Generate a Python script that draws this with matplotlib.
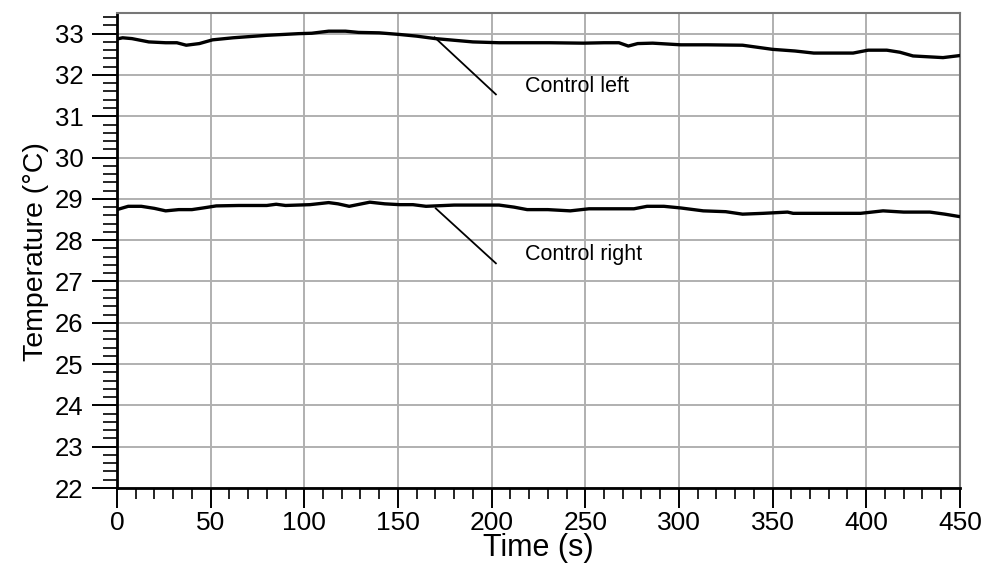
import matplotlib
matplotlib.use("Agg")
import matplotlib.pyplot as plt
from matplotlib.ticker import MultipleLocator

plt.rcParams['font.family'] = ['Liberation Sans', 'DejaVu Sans']

# Control left temperature trace
time_left = [0, 3, 8, 17, 26, 32, 37, 44, 51, 62, 80, 97, 104, 113, 122, 129, 140,
             151, 160, 170, 180, 190, 204, 215, 231, 249, 260, 268, 273, 278, 286,
             301, 315, 334, 342, 350, 362, 372, 393, 401, 411, 418, 425, 441, 450]
temp_left = [32.87, 32.90, 32.88, 32.80, 32.78, 32.78, 32.72, 32.76, 32.85, 32.90,
             32.96, 33.00, 33.01, 33.06, 33.06, 33.03, 33.02, 32.98, 32.94, 32.88,
             32.84, 32.80, 32.78, 32.78, 32.78, 32.77, 32.78, 32.78, 32.70, 32.76,
             32.77, 32.73, 32.73, 32.72, 32.67, 32.62, 32.58, 32.53, 32.53, 32.60,
             32.60, 32.55, 32.46, 32.42, 32.47]

# Control right temperature trace
time_right = [0, 6, 13, 20, 26, 33, 40, 46, 53, 65, 80, 85, 90, 103, 113, 118, 124,
              135, 143, 151, 158, 165, 180, 204, 212, 219, 230, 242, 252, 265, 276,
              283, 292, 301, 313, 325, 334, 345, 358, 361, 380, 397, 409, 420, 434,
              442, 450]
temp_right = [28.74, 28.82, 28.82, 28.77, 28.71, 28.74, 28.74, 28.78, 28.83, 28.84,
              28.84, 28.87, 28.84, 28.86, 28.91, 28.88, 28.82, 28.92, 28.88, 28.86,
              28.86, 28.82, 28.85, 28.85, 28.80, 28.74, 28.74, 28.71, 28.76, 28.76,
              28.76, 28.82, 28.82, 28.78, 28.71, 28.69, 28.63, 28.65, 28.68, 28.65,
              28.65, 28.65, 28.71, 28.68, 28.68, 28.63, 28.57]

# Label text and leader-line anchors (data units)
labels = ["Control left", "Control right"]
leader_start = [(169.6, 32.91), (170.2, 28.77)]
leader_end = [(202.3, 31.53), (202.3, 27.44)]
label_pos = [(217.8, 31.72), (217.8, 27.65)]

fig = plt.figure(figsize=(9.87, 5.63), dpi=100)
ax = fig.add_axes([0.1185, 0.1332, 0.854, 0.8437])

grid_c = '#b0b0b0'
ax.grid(True, which='major', color=grid_c, linewidth=1.4, zorder=0)

ax.plot(time_left, temp_left, color='black', linewidth=2.4, zorder=3)
ax.plot(time_right, temp_right, color='black', linewidth=2.4, zorder=3)

for lab, (x0, y0), (x1, y1), (tx, ty) in zip(labels, leader_start, leader_end, label_pos):
    ax.plot([x0, x1], [y0, y1], color='black', linewidth=1.3, zorder=3)
    ax.text(tx, ty, lab, fontsize=15.5, ha='left', va='center', color='black', zorder=4)

ax.set_xlim(0, 450)
ax.set_ylim(22, 33.5)
ax.xaxis.set_major_locator(MultipleLocator(50))
ax.xaxis.set_minor_locator(MultipleLocator(10))
ax.yaxis.set_major_locator(MultipleLocator(1))
ax.yaxis.set_minor_locator(MultipleLocator(0.2))

ax.tick_params(axis='x', which='major', direction='out', length=14.5, width=1.4,
               labelsize=19, pad=2)
ax.tick_params(axis='x', which='minor', direction='out', length=8, width=1.2)
ax.tick_params(axis='y', which='major', direction='out', length=18, width=1.4,
               labelsize=18.5, pad=6)
ax.tick_params(axis='y', which='minor', direction='out', length=10, width=1.2)

for side in ('left', 'bottom'):
    ax.spines[side].set_color('black')
    ax.spines[side].set_linewidth(2.0)
for side in ('top', 'right'):
    ax.spines[side].set_color('#777777')
    ax.spines[side].set_linewidth(1.5)

ax.set_xlabel('Time (s)', fontsize=22)
ax.xaxis.set_label_coords(0.4994, -0.095)
ax.set_ylabel('Temperature (°C)', fontsize=20.5)
ax.yaxis.set_label_coords(-0.081, 0.497)

fig.savefig('out.png', dpi=100)
